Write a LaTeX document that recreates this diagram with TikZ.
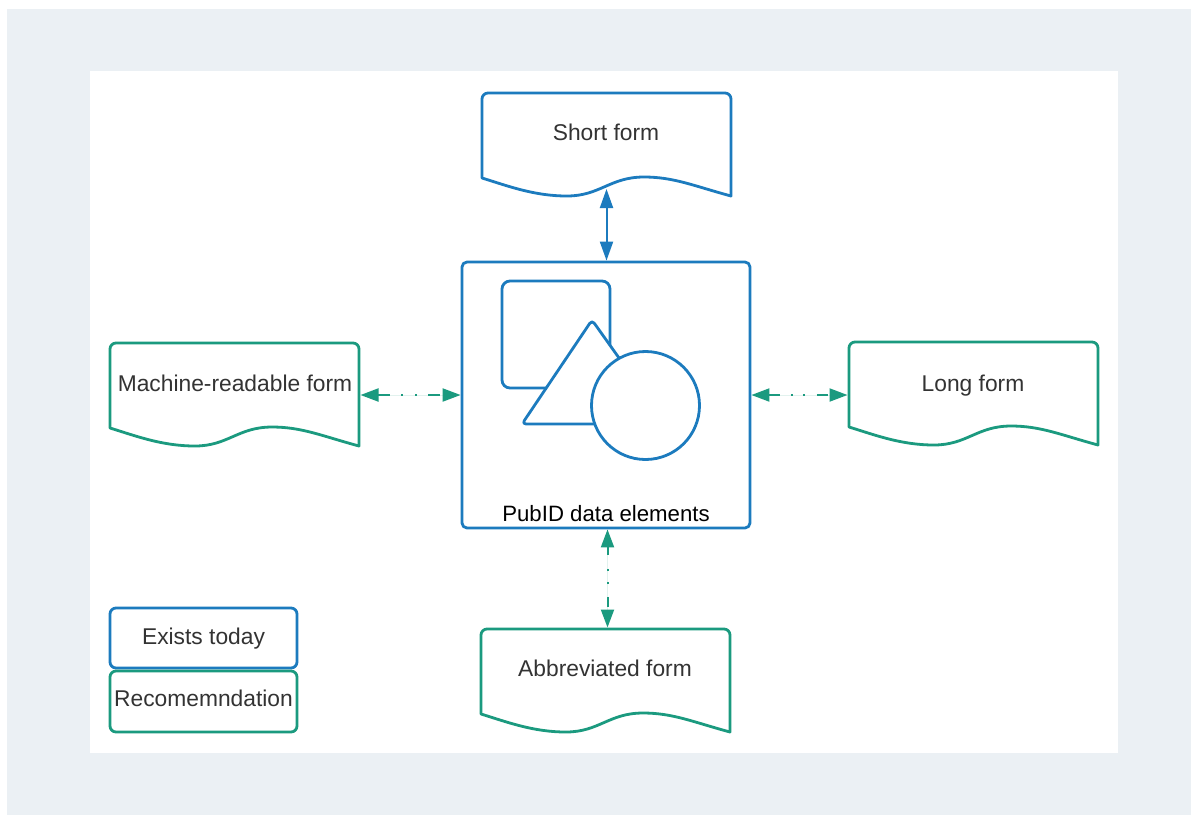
\documentclass[tikz,border=0pt]{standalone}
\usepackage{fontspec}
\setmainfont{Liberation Sans}
\usetikzlibrary{arrows.meta}
\definecolor{blueC}{HTML}{1C7BBE}
\definecolor{greenC}{HTML}{1B9A7F}
\definecolor{bgC}{HTML}{EBF0F4}
\definecolor{txtC}{HTML}{333333}
\tikzset{
  shapeline/.style={line width=2.8pt, line join=round},
  label text/.style={text=txtC, font=\fontsize{22.8}{27}\selectfont,
    inner sep=0pt, anchor=base},
  docshape/.pic={
    \draw[shapeline, fill=white]
      (0,-85) -- (0,-6) arc[start angle=180, end angle=90, radius=6pt]
      -- (243,0) arc[start angle=90, end angle=0, radius=6pt]
      -- (249,-103)
      .. controls (212,-93) and (192,-84) .. (162,-84)
      .. controls (128,-84) and (118,-103) .. (85,-103)
      .. controls (52,-103) and (26,-93) .. (0,-85) -- cycle;
  },
  legendbox/.style={shapeline, rounded corners=6pt, fill=white,
    minimum width=187pt, inner sep=0pt},
  bluearrow/.style={draw=blueC, line width=2pt,
    {Triangle[length=19pt,width=13pt]}-{Triangle[length=19pt,width=13pt]}},
  greenarrow/.style={draw=greenC, fill=greenC, line width=2pt,
    {Triangle[length=18pt,width=13pt]}-{Triangle[length=18pt,width=13pt]}},
}
\begin{document}
\begin{tikzpicture}[x=1pt, y=1pt]
  \useasboundingbox (0,0) rectangle (1191,-815);
  % backdrop and canvas
  \fill[bgC] (7,-9) rectangle (1191,-815);
  \fill[white] (90,-71) rectangle (1118,-753);

  % document shapes
  \pic[color=blueC] at (482,-93) {docshape};
  \pic[color=greenC] at (110,-343) {docshape};
  \pic[color=greenC] at (849,-342) {docshape};
  \pic[color=greenC] at (481,-629) {docshape};

  \node[label text] (sf) at (606,-140) {Short form};
  \node[label text] (mr) at (235,-391) {Machine-readable form};
  \node[label text] (lf) at (973,-391) {Long form};
  \node[label text] (ab) at (605,-676) {Abbreviated form};

  % central element box
  \node[shapeline, draw=blueC, rounded corners=5pt, minimum width=288pt,
        minimum height=266pt, inner sep=0pt] (pub) at (606,-395) {};
  \draw[shapeline, draw=blueC, rounded corners=8pt] (502,-281) rectangle (610,-388);
  \draw[shapeline, draw=blueC, fill=white, rounded corners=4pt]
    (592,-320) -- (666,-424) -- (522,-424) -- cycle;
  \draw[shapeline, draw=blueC, fill=white] (645.5,-405.5) circle[radius=54pt];
  \node[label text, text=black, font=\fontsize{22.2}{26}\selectfont]
    (publabel) at (606,-521.5) {PubID data elements};

  % connector end points on the document edges
  \coordinate (sfB) at (606.5,-189);
  \coordinate (mrE) at (360.5,-395);
  \coordinate (lfW) at (847.5,-395);
  \coordinate (abN) at (607.5,-627.5);

  % connectors
  \draw[bluearrow] (sfB) -- (pub.north -| sfB);
  \draw[greenarrow, dash pattern=on 12pt off 11pt on 2pt off 12pt on 2pt off 11pt on 12pt off 60pt]
    (mrE) -- (pub.west);
  \draw[greenarrow, dash pattern=on 11pt off 11pt on 2pt off 10pt on 2pt off 12pt on 11pt off 60pt]
    (pub.east) -- (lfW);
  \draw[greenarrow, dash pattern=on 8pt off 14pt on 2pt off 11pt on 2pt off 13pt on 10pt off 60pt]
    (pub.south -| abN) -- (abN);

  % legend
  \node[legendbox, draw=blueC, minimum height=60pt] (exists) at (203.5,-638) {};
  \node[legendbox, draw=greenC, minimum height=61pt] (recom) at (203.5,-701.5) {};
  \node[label text] (existsText) at (exists.center |- 0,-644) {Exists today};
  \node[label text] (recomText) at (recom.center |- 0,-706) {Recomemndation};
\end{tikzpicture}
\end{document}
